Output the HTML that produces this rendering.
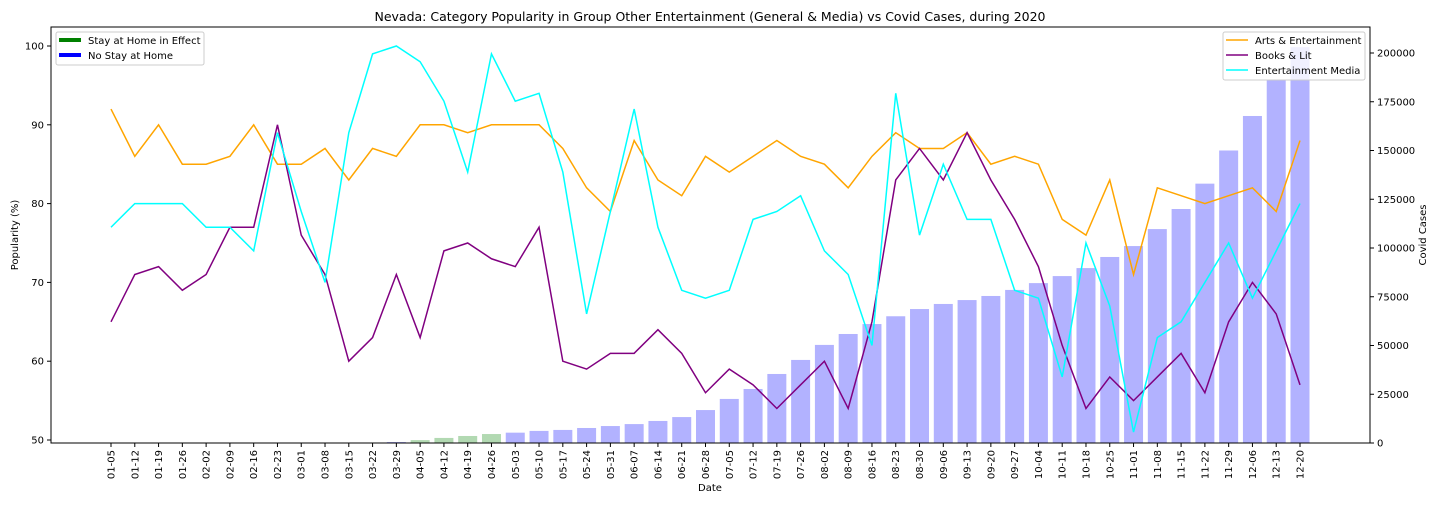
<!DOCTYPE html>
<html><head><meta charset="utf-8">
<style>
body{margin:0;background:#fff;font-family:"Liberation Sans","DejaVu Sans",sans-serif;}
svg text{font-family:"DejaVu Sans","Liberation Sans",sans-serif;}
</style></head>
<body>
<svg id="chart" width="1440" height="504" viewBox="0 0 1440 504" xmlns="http://www.w3.org/2000/svg">
<rect width="1440" height="504" fill="#fff"/>
<text x="710" y="21" text-anchor="middle" font-size="12.5">Nevada: Category Popularity in Group Other Entertainment (General &amp; Media) vs Covid Cases, during 2020</text>
<g id="bars"></g>
<g id="lines"></g>
<g id="axes"></g>
<rect x="51" y="27" width="1319" height="416" fill="none" stroke="#000" stroke-width="1"/>
<text x="710" y="491" text-anchor="middle" font-size="10">Date</text>
<text transform="translate(18,235) rotate(-90)" text-anchor="middle" font-size="10">Popularity (%)</text>
<text transform="translate(1426,235) rotate(-90)" text-anchor="middle" font-size="10">Covid Cases</text>
<g>
<rect x="56" y="32" width="148" height="33" fill="#fff" fill-opacity="0.8" stroke="#ccc" rx="2"/>
<line x1="59" y1="40" x2="81" y2="40" stroke="green" stroke-width="4"/>
<text x="88" y="44" font-size="10">Stay at Home in Effect</text>
<line x1="59" y1="55" x2="81" y2="55" stroke="blue" stroke-width="4"/>
<text x="88" y="59" font-size="10">No Stay at Home</text>
</g>
<g>
<rect x="1223" y="32" width="142" height="48" fill="#fff" fill-opacity="0.8" stroke="#ccc" rx="2"/>
<line x1="1226" y1="40" x2="1248" y2="40" stroke="orange" stroke-width="1.5"/>
<text x="1255" y="44" font-size="10">Arts &amp; Entertainment</text>
<line x1="1226" y1="55" x2="1248" y2="55" stroke="purple" stroke-width="1.5"/>
<text x="1255" y="59" font-size="10">Books &amp; Lit</text>
<line x1="1226" y1="70" x2="1248" y2="70" stroke="cyan" stroke-width="1.5"/>
<text x="1255" y="74" font-size="10">Entertainment Media</text>
</g>
</svg>
<script>
const dates=["01-05","01-12","01-19","01-26","02-02","02-09","02-16","02-23","03-01","03-08","03-15","03-22","03-29","04-05","04-12","04-19","04-26","05-03","05-10","05-17","05-24","05-31","06-07","06-14","06-21","06-28","07-05","07-12","07-19","07-26","08-02","08-09","08-16","08-23","08-30","09-06","09-13","09-20","09-27","10-04","10-11","10-18","10-25","11-01","11-08","11-15","11-22","11-29","12-06","12-13","12-20"];
const arts=[92,86,90,85,85,86,90,85,85,87,83,87,86,90,90,89,90,90,90,87,82,79,88,83,81,86,84,86,88,86,85,82,86,89,87,87,89,85,86,85,78,76,83,71,82,81,80,81,82,79,88];
const books=[65,71,72,69,71,77,77,90,76,71,60,63,71,63,74,75,73,72,77,60,59,61,61,64,61,56,59,57,54,57,60,54,65,83,87,83,89,83,78,72,62,54,58,55,58,61,56,65,70,66,57];
const media=[77,80,80,80,77,77,74,89,79,70,89,99,100,98,93,84,99,93,94,84,66,79,92,77,69,68,69,78,79,81,74,71,62,94,76,85,78,78,69,68,58,75,67,51,63,65,70,75,68,74,80];
const cases=[0,0,0,0,0,0,0,0,0,0,0,0,500,1500,2600,3600,4600,5300,6200,6700,7700,8700,9700,11300,13300,16900,22600,27700,35400,42600,50300,55900,61000,65000,68700,71300,73300,75400,78500,82000,85600,89700,95400,101000,109700,120000,133000,150000,167700,186000,203000];
const stayHome=[0,0,0,0,0,0,0,0,0,0,0,0,0,1,1,1,1,0,0,0,0,0,0,0,0,0,0,0,0,0,0,0,0,0,0,0,0,0,0,0,0,0,0,0,0,0,0,0,0,0,0];
const yTicks=[50,60,70,80,90,100];
const y2Ticks=[0,25000,50000,75000,100000,125000,150000,175000,200000];

const NS="http://www.w3.org/2000/svg";
const x=i=>111+i*(1300-111)/50;
const y=v=>440-(v-50)*(440-46)/50;
const y2=v=>443-v*(443-53)/200000;
function mk(t,a,p){const e=document.createElementNS(NS,t);for(const k in a)e.setAttribute(k,a[k]);p.appendChild(e);return e;}
const bars=document.getElementById('bars'),lines=document.getElementById('lines'),axes=document.getElementById('axes');
const bw=19;
cases.forEach((c,i)=>{if(c<=0)return;
 const r=mk('rect',{x:x(i)-bw/2,y:y2(c),width:bw,height:443-y2(c),fill:stayHome[i]?'green':'blue','fill-opacity':0.3},bars);
 
 
});
[[arts,'orange','line-arts'],[books,'purple','line-books'],[media,'cyan','line-media']].forEach(([d,c,n])=>{
 const p=mk('polyline',{points:d.map((v,i)=>x(i)+','+y(v)).join(' '),fill:'none',stroke:c,'stroke-width':1.5},lines);
 
 
});
dates.forEach((d,i)=>{
 mk('line',{x1:x(i),x2:x(i),y1:443,y2:447,stroke:'#000'},axes);
 const t=mk('text',{transform:`translate(${x(i)+3.5},450) rotate(-90)`,'text-anchor':'end','font-size':10},axes);
 t.textContent=d;
 
 
});
yTicks.forEach(v=>{
 mk('line',{x1:47,x2:51,y1:y(v),y2:y(v),stroke:'#000'},axes);
 const t=mk('text',{x:44,y:y(v)+3.5,'text-anchor':'end','font-size':10},axes);
 t.textContent=v;
 
 
});
y2Ticks.forEach(v=>{
 mk('line',{x1:1370,x2:1374,y1:y2(v),y2:y2(v),stroke:'#000'},axes);
 const t=mk('text',{x:1377,y:y2(v)+3.5,'font-size':10},axes);
 t.textContent=v;
 
 
});
</script>
</body></html>
